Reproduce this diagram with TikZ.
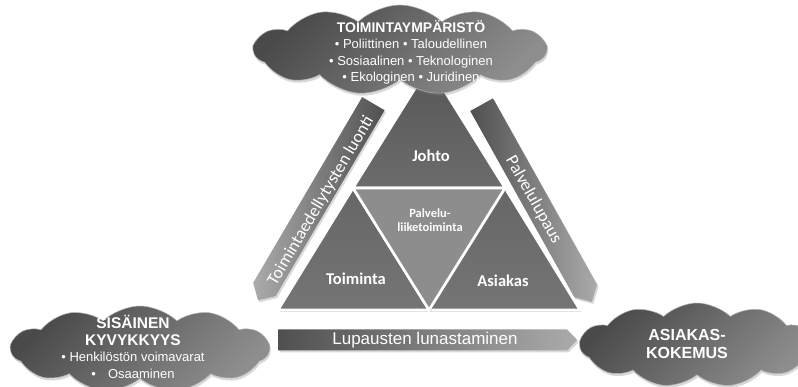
\documentclass[tikz,border=0pt]{standalone}
\usepackage{fontspec}
\setmainfont{Liberation Sans}
\newfontfamily\calib{Carlito}
\usetikzlibrary{shapes.symbols,shapes.arrows,shadows}
\definecolor{cdark}{HTML}{4A4A4A}
\definecolor{clight}{HTML}{8E8E8E}
\definecolor{bdark}{HTML}{505050}
\definecolor{blight}{HTML}{ABABAB}
\definecolor{tdarkA}{HTML}{565656}
\definecolor{tdarkB}{HTML}{6C6C6C}
\definecolor{tmidA}{HTML}{666666}
\definecolor{tmidB}{HTML}{757575}
\definecolor{tlight}{HTML}{8D8D8D}
\begin{document}
\begin{tikzpicture}[x=1pt,y=-1pt,
  cloudshape/.style={cloud, cloud puffs=11, cloud puff arc=88, draw=gray!60, line width=0.5pt,
    top color=cdark, bottom color=clight, shading angle=45,
    drop shadow={opacity=0.3,shadow xshift=1pt,shadow yshift=-2.5pt}, inner sep=0pt},
  band/.style={single arrow, single arrow head extend=0pt, single arrow tip angle=92,
    inner sep=0pt, drop shadow={opacity=0.3,shadow xshift=1.5pt,shadow yshift=-2pt}},
  tri/.style={draw=white, line width=2.6pt, line join=miter,
    drop shadow={opacity=0.3,shadow xshift=1.5pt,shadow yshift=-2pt}},
  trilabel/.style={white, font=\calib\bfseries\fontsize{16.5}{18}\selectfont},
  bandtext/.style={white, font=\calib\fontsize{17.5}{20}\selectfont, inner sep=0pt},
  cloudtext/.style={white, align=center, inner sep=0pt}
]
\useasboundingbox (0,0) rectangle (798,387);
\fill[white] (0,0) rectangle (798,387);

% bands
\node[band, shape border rotate=180, rotate=59.6, anchor=tail, minimum height=228, minimum width=26,
  left color=blight, right color=bdark] (lband) at (373.5,103.5) {};
\node[band, rotate=-60.8, anchor=tail, minimum height=226, minimum width=26,
  left color=bdark, right color=blight] (rband) at (481.5,104.5) {};
\node[band, anchor=tail, minimum height=299, minimum width=21,
  left color=bdark, right color=blight] (bband) at (278,340) {};

% triangles
\coordinate (apex) at (429,66);
\coordinate (ml) at (353,188);
\coordinate (mr) at (505,188);
\coordinate (bl) at (278,310);
\coordinate (bm) at (429,310);
\coordinate (br) at (580,310);
\path[tri, top color=tdarkA, bottom color=tdarkB] (apex) -- (ml) -- (mr) -- cycle;
\path[tri, top color=tmidA, bottom color=tmidB] (ml) -- (bl) -- (bm) -- cycle;
\path[tri, top color=tmidA, bottom color=tmidB] (mr) -- (bm) -- (br) -- cycle;
\path[tri, fill=tlight] (ml) -- (mr) -- (bm) -- cycle;

% clouds
\node[cloudshape, minimum width=292, minimum height=90] (envcloud) at (400,50) {};
\node[cloudshape, minimum width=258, minimum height=86] (incloud) at (140,349) {};
\node[cloudshape, minimum width=234, minimum height=84] (excloud) at (697,345) {};

% texts
\node[cloudtext, font=\fontsize{13}{16.4}\selectfont] (envtext) at (411,52.5)
  {{\bfseries\fontsize{14}{16.4}\selectfont TOIMINTAYMPÄRISTÖ}\\
   • Poliittinen • Taloudellinen\\
   • Sosiaalinen • Teknologinen\\
   • Ekologinen • Juridinen};
\node[cloudtext, font=\fontsize{13}{16.7}\selectfont] (intext) at (133,347)
  {{\bfseries\fontsize{15.5}{16.7}\selectfont SISÄINEN}\\
   {\bfseries\fontsize{15.5}{16.7}\selectfont KYVYKKYYS}\\
   • Henkilöstön voimavarat\\
   •\hspace{12pt}Osaaminen};
\node[cloudtext, font=\bfseries\fontsize{16}{18}\selectfont] (extext) at (687,344)
  {ASIAKAS-\\KOKEMUS};

\node[trilabel] (johto) at (431,156) {Johto};
\node[trilabel] (toiminta) at (356,279) {Toiminta};
\node[trilabel] (asiakas) at (503,281) {Asiakas};
\node[white, align=center, font=\calib\bfseries\fontsize{12.5}{14}\selectfont] (palvelu) at (430,220)
  {Palvelu-\\liiketoiminta};

\node[bandtext, rotate=59.6] (ltext) at (321,200.8) {Toimintaedellytysten luonti};
\node[bandtext, rotate=-60.8] (rtext) at (533.5,200) {Palvelulupaus};
\node[white, inner sep=0pt, font=\fontsize{17}{20}\selectfont] (btext) at (425,340) {Lupausten lunastaminen};
\end{tikzpicture}
\end{document}
